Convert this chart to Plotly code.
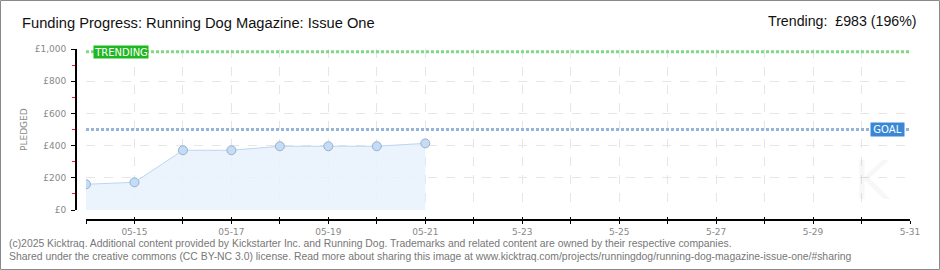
import plotly.graph_objects as go

# ---- data ----
dates = ["2025-05-14", "2025-05-15", "2025-05-16", "2025-05-17",
         "2025-05-18", "2025-05-19", "2025-05-20", "2025-05-21"]
pledged = [160, 172, 371, 371, 396, 396, 396, 414]
goal = 500
trending = 983
x_start = "2025-05-14"
x_end = "2025-05-31"
day_ticks = ["2025-05-%02d" % d for d in range(14, 32)]
day_labels = ["", "05-15", "", "05-17", "", "05-19", "", "05-21", "",
              "5-23", "", "5-25", "", "5-27", "", "5-29", "", "5-31"]
y_ticks = [0, 200, 400, 600, 800, 1000]
y_labels = ["£0", "£200", "£400", "£600", "£800", "£1,000"]

title = "Funding Progress: Running Dog Magazine: Issue One"
trend_text = "Trending:  £983 (196%)"
footer1 = ("(c)2025 Kicktraq. Additional content provided by Kickstarter Inc. and Running Dog. "
           "Trademarks and related content are owned by their respective companies.")
footer2 = ("Shared under the creative commons (CC BY-NC 3.0) license. Read more about sharing this "
           "image at www.kicktraq.com/projects/runningdog/running-dog-magazine-issue-one/#sharing")

# ---- pixel layout helpers ----
W, H = 940, 270
L, R = 76, 910      # paper x span in pixels
T, B = 49, 220      # paper y span in pixels


def px(x):
    return (x - L) / (R - L)


def py(y):
    return (B - y) / (B - T)


fig = go.Figure()

# goal & trending lines
fig.add_trace(go.Scatter(x=[x_start, x_end], y=[trending, trending], mode="lines",
                         line=dict(color="#82d882", width=3, dash="3px,2px"),
                         hoverinfo="skip", showlegend=False))
fig.add_trace(go.Scatter(x=[x_start, x_end], y=[goal, goal], mode="lines",
                         line=dict(color="#94b4da", width=3, dash="3px,2px"),
                         hoverinfo="skip", showlegend=False))

# pledged series
fig.add_trace(go.Scatter(x=dates, y=pledged, mode="lines+markers",
                         fill="tozeroy", fillcolor="rgba(232,241,252,0.85)",
                         line=dict(color="#bcd6f2", width=1),
                         marker=dict(size=9, color="#c4dcf6",
                                     line=dict(color="#98b0cc", width=1)),
                         showlegend=False))

# overlay axis for inward x ticks
fig.add_trace(go.Scatter(x=[x_start], y=[None], xaxis="x2", showlegend=False,
                         hoverinfo="skip"))

tick_font = dict(family="DejaVu Sans", size=9, color="#888888")
text_font = "Liberation Sans"

fig.update_layout(
    width=W, height=H,
    margin=dict(l=L, r=W - R, t=T, b=H - B, pad=0),
    paper_bgcolor="white", plot_bgcolor="white",
    xaxis=dict(
        type="date", range=[x_start, x_end], domain=[px(86), 1],
        anchor="free", position=0,
        tickmode="array", tickvals=day_ticks, ticktext=day_labels,
        ticks="outside", ticklen=3, tickcolor="black", tickwidth=1,
        showline=True, linecolor="black", linewidth=2,
        showgrid=True, gridcolor="#e6e6e6", griddash="dash", gridwidth=1,
        tickfont=tick_font, zeroline=False,
    ),
    xaxis2=dict(
        type="date", range=[x_start, x_end], domain=[px(86), 1],
        overlaying="x", anchor="free", position=0,
        tickmode="array", tickvals=day_ticks, ticktext=[""] * len(day_ticks),
        ticks="inside", ticklen=3, tickcolor="black", tickwidth=1,
        showline=False, showgrid=False, zeroline=False,
    ),
    yaxis=dict(
        range=[0, 1000], domain=[py(210), 1],
        anchor="free", position=0,
        tickmode="array", tickvals=y_ticks, ticktext=y_labels,
        ticks="outside", ticklen=4, tickcolor="black", tickwidth=1,
        minor=dict(ticks="outside", ticklen=3, tickcolor="#ff2020", dtick=100,
                   tick0=100, showgrid=False),
        showline=True, linecolor="black", linewidth=2,
        showgrid=True, gridcolor="#e6e6e6", griddash="dash", gridwidth=1,
        tickfont=tick_font, zeroline=False, ticklabelstandoff=3,
    ),
    shapes=[
        dict(type="rect", xref="paper", yref="paper",
             x0=px(0.5), x1=px(W - 0.5), y0=py(H - 0.5), y1=py(0.5),
             line=dict(color="#8a8a8a", width=1), fillcolor="rgba(0,0,0,0)",
             layer="below"),
        dict(type="line", xref="paper", yref="paper",
             x0=0, x1=0, y0=py(210), y1=1,
             line=dict(color="black", width=2), layer="above"),
    ],
    annotations=[
        dict(text="K", xref="paper", yref="paper", x=px(872), y=py(180),
             xanchor="center", yanchor="middle", showarrow=False,
             font=dict(family="DejaVu Sans", size=54, color="rgba(0,0,0,0.03)")),
        dict(text=title, xref="paper", yref="paper", x=px(20), y=py(23),
             xanchor="left", yanchor="middle", showarrow=False,
             font=dict(family=text_font, size=14.7, color="#111111")),
        dict(text=trend_text, xref="paper", yref="paper", x=px(919), y=py(21),
             xanchor="right", yanchor="middle", showarrow=False,
             font=dict(family=text_font, size=14.2, color="#111111")),
        dict(text="PLEDGED", xref="paper", yref="paper", x=px(24), y=py(130),
             xanchor="center", yanchor="middle", showarrow=False, textangle=-90,
             font=dict(family="DejaVu Sans", size=9, color="#888888")),
        dict(text="TRENDING", xref="paper", yref="y", x=px(93), y=trending,
             xanchor="left", yanchor="middle", showarrow=False,
             bgcolor="#20b820", width=54, height=12, borderpad=0,
             font=dict(family="DejaVu Sans", size=10, color="white")),
        dict(text="GOAL", xref="paper", yref="y", x=px(905), y=goal,
             xanchor="right", yanchor="middle", showarrow=False,
             bgcolor="#3a87d6", width=33, height=13, borderpad=0,
             font=dict(family="DejaVu Sans", size=10, color="white")),
        dict(text=footer1, xref="paper", yref="paper", x=px(7), y=py(243),
             xanchor="left", yanchor="middle", showarrow=False,
             font=dict(family=text_font, size=10.4, color="#777777")),
        dict(text=footer2, xref="paper", yref="paper", x=px(7), y=py(256),
             xanchor="left", yanchor="middle", showarrow=False,
             font=dict(family=text_font, size=10.4, color="#777777")),
    ],
)

fig.write_html("out.html")
